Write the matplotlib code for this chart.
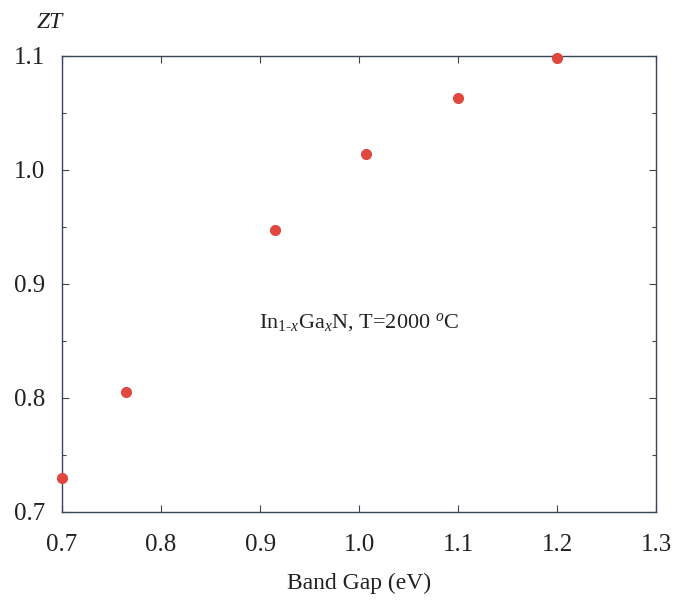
import matplotlib
matplotlib.use('Agg')
import matplotlib.pyplot as plt
from matplotlib.ticker import MultipleLocator

band_gap = [0.700, 0.765, 0.915, 1.007, 1.100, 1.200]
zt = [0.730, 0.805, 0.947, 1.014, 1.063, 1.098]

plt.rcParams['font.family'] = 'Liberation Serif'
plt.rcParams['mathtext.fontset'] = 'custom'
plt.rcParams['mathtext.rm'] = 'Liberation Serif'
plt.rcParams['mathtext.it'] = 'Liberation Serif:italic'

frame_color = '#3a4558'
text_color = '#222222'

fig = plt.figure(figsize=(6.75, 6.0), dpi=100)
ax = fig.add_axes([0.092, 0.147, 0.880, 0.760])
ax.plot(band_gap, zt, 'o', color='#e0473f', markersize=7, clip_on=False, zorder=3)

ax.set_xlim(0.7, 1.3)
ax.set_ylim(0.7, 1.1)
ax.xaxis.set_major_locator(MultipleLocator(0.1))
ax.yaxis.set_major_locator(MultipleLocator(0.1))
ax.yaxis.set_minor_locator(MultipleLocator(0.05))
ax.xaxis.set_major_formatter(plt.FuncFormatter(lambda v, p: '{:.1f}'.format(v)))
ax.yaxis.set_major_formatter(plt.FuncFormatter(lambda v, p: '{:.1f}'.format(v)))
ax.tick_params(which='both', direction='in', top=True, right=True,
               color=frame_color, labelsize=18, labelcolor=text_color)
ax.tick_params(which='major', length=5, width=0.8)
ax.tick_params(which='minor', length=3, width=0.8)
ax.tick_params(axis='x', pad=16)
ax.tick_params(axis='y', pad=12)
for s in ax.spines.values():
    s.set_color(frame_color)
    s.set_linewidth(1.0)

ax.set_xlabel('Band Gap (eV)', fontsize=17, color=text_color, labelpad=12)
fig.text(0.055, 0.962, 'ZT', fontsize=17, style='italic', color=text_color,
         ha='left', va='center')
ax.text(0.5, 0.415, r'In$_{1\text{-}x}$Ga$_x$N, T=2000 $^o$C',
        transform=ax.transAxes, fontsize=16, color=text_color, ha='center', va='center')

fig.savefig('out.png', dpi=100)
